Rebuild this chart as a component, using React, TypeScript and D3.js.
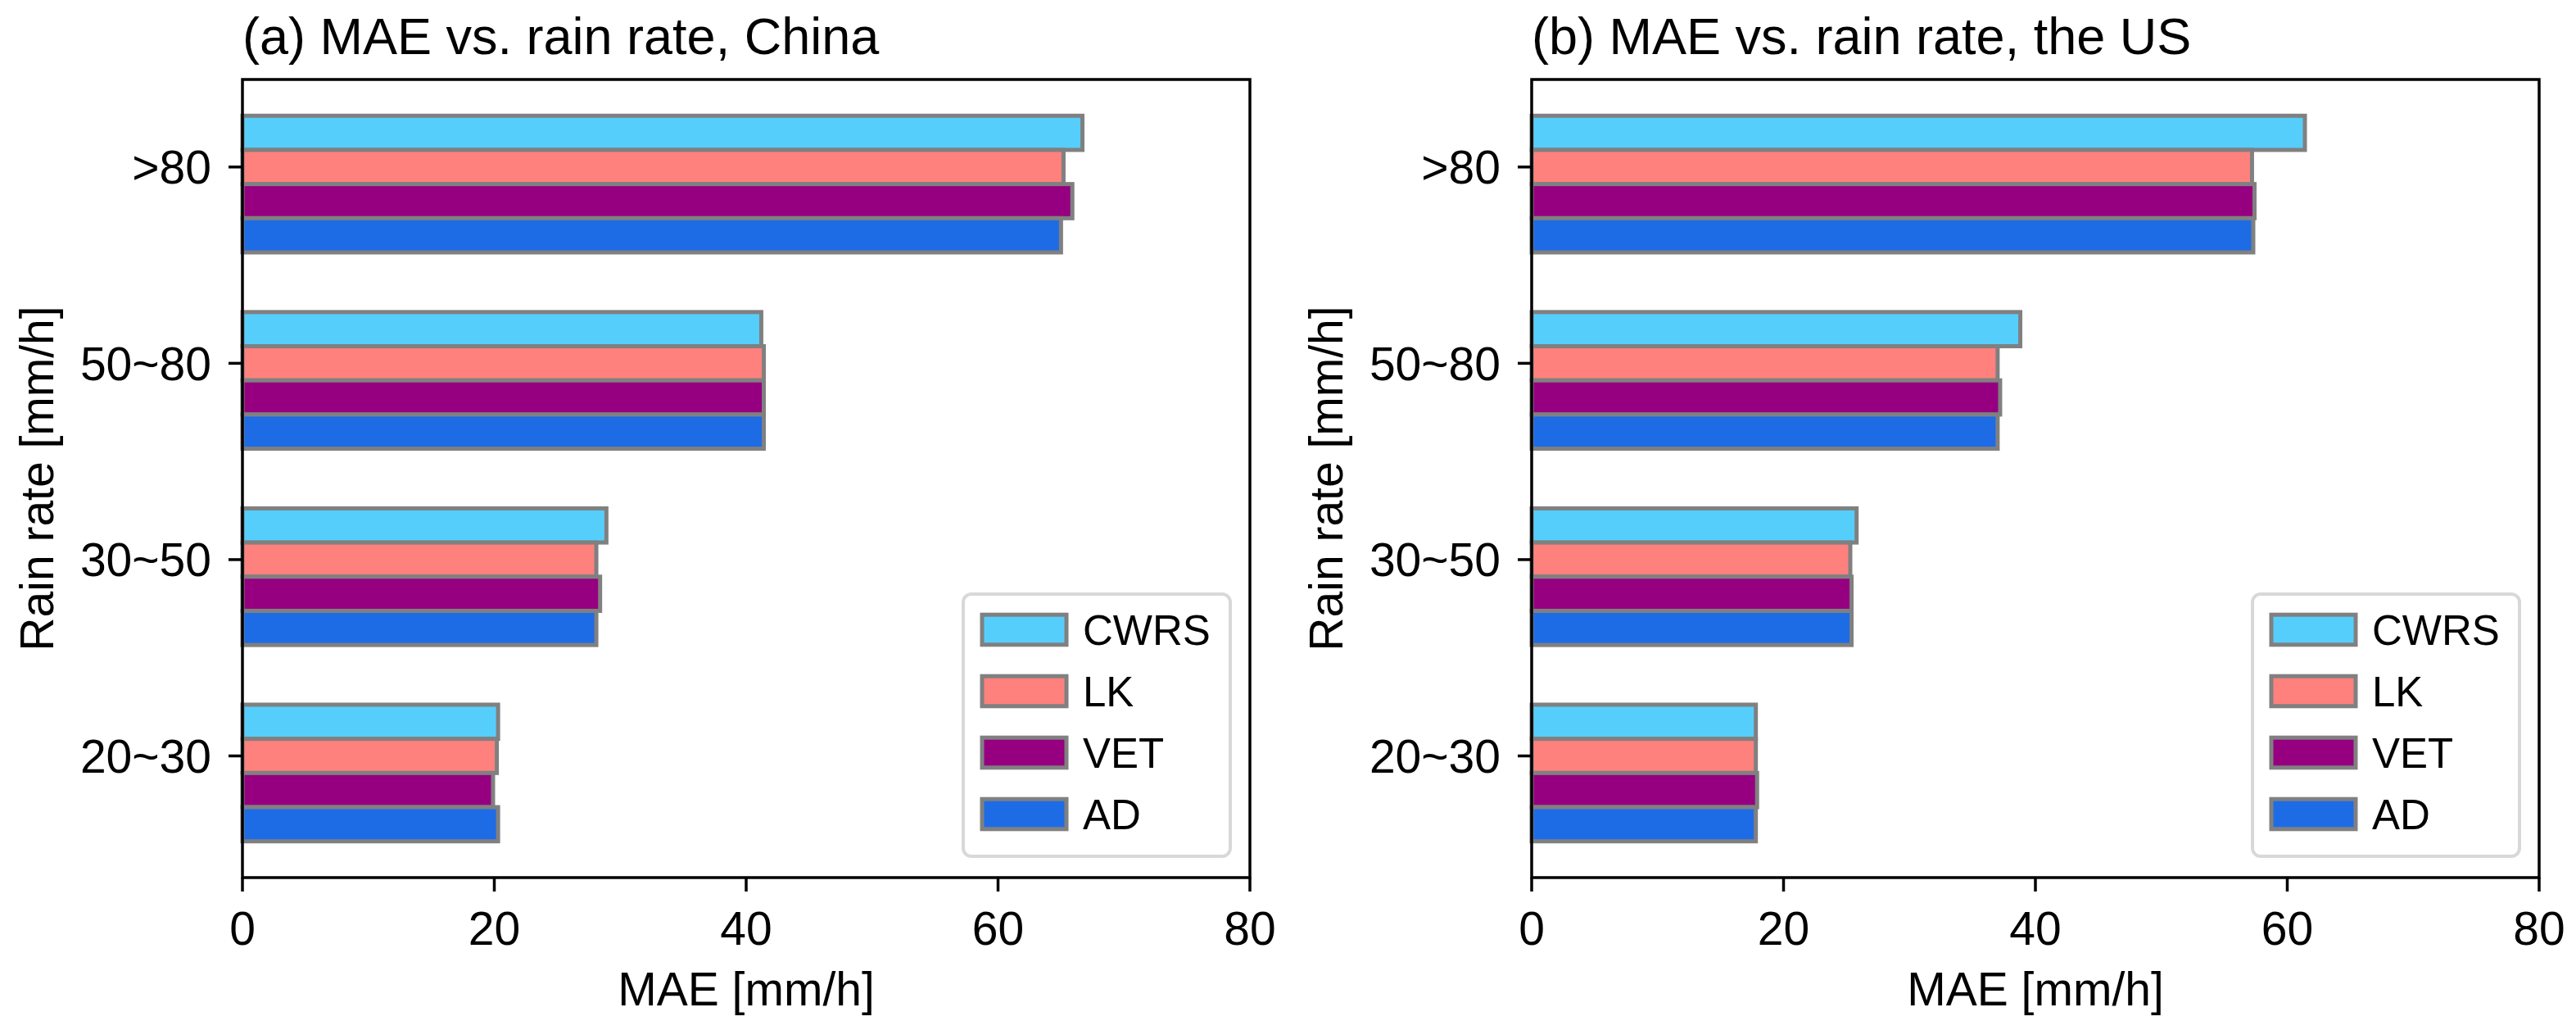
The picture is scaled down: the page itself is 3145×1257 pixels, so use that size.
import React, { useRef, useEffect } from 'react';
import * as d3 from 'd3';

const categories = ['20~30', '30~50', '50~80', '>80'];
const methods = ['CWRS', 'LK', 'VET', 'AD'];
const methodColors = ['#56CEFC', '#FF817D', '#960080', '#1E6BE6'];
const xTicks = [0, 20, 40, 60, 80];
const titles = ['(a) MAE vs. rain rate, China', '(b) MAE vs. rain rate, the US'];

// MAE [mm/h], one row per method, columns follow categories
const chinaMAE = [
  [20.3, 28.9, 41.2, 66.7],
  [20.2, 28.1, 41.4, 65.2],
  [19.9, 28.4, 41.4, 65.9],
  [20.3, 28.1, 41.4, 65.0]
];
const usMAE = [
  [17.8, 25.8, 38.8, 61.4],
  [17.8, 25.3, 37.0, 57.2],
  [17.9, 25.4, 37.2, 57.4],
  [17.8, 25.4, 37.0, 57.3]
];

export default function App(): JSX.Element {
  const svgRef = useRef<SVGSVGElement>(null);
  useEffect(() => {
    const svgEle = svgRef.current;
    if (svgEle == null) {
      return;
    }
    const svg = d3.select(svgEle);
    svg.selectAll('*').remove();

    const font = '"Liberation Sans", Arial, Helvetica, sans-serif';
    const top = 97;
    const bottom = 1071;
    const plotW = 1230;
    const barH = 0.174;
    const fs = 57;
    const edge = '#808080';

    // same auto limits as matplotlib: bar extent + 5% margins
    const span = categories.length - 1 + 4 * barH;
    const y = d3
      .scaleLinear()
      .domain([-2.5 * barH - 0.05 * span, categories.length - 1 + 1.5 * barH + 0.05 * span])
      .range([bottom, top]);

    const panels = [
      { left: 296, title: titles[0], values: chinaMAE },
      { left: 1870, title: titles[1], values: usMAE }
    ];

    panels.forEach((p) => {
      const x = d3.scaleLinear().domain([0, 80]).range([p.left, p.left + plotW]);
      const g = svg.append('g');

      // bars, CWRS on top of each group, LK centred on the tick
      methods.forEach((m, i) => {
        g.selectAll(null)
          .data(p.values[i])
          .join('rect')
          .attr('x', x(0))
          .attr('y', (d, j) => y(j + (1 - i) * barH + barH / 2))
          .attr('width', (d) => x(d) - x(0))
          .attr('height', y(0) - y(barH))
          .attr('fill', methodColors[i])
          .attr('stroke', edge)
          .attr('stroke-width', 5);
      });

      // frame
      g.append('rect')
        .attr('x', p.left)
        .attr('y', top)
        .attr('width', plotW)
        .attr('height', bottom - top)
        .attr('fill', 'none')
        .attr('stroke', '#000')
        .attr('stroke-width', 3.5);

      // y ticks
      g.selectAll(null)
        .data(categories)
        .join('line')
        .attr('x1', p.left - 17)
        .attr('x2', p.left)
        .attr('y1', (d, j) => y(j))
        .attr('y2', (d, j) => y(j))
        .attr('stroke', '#000')
        .attr('stroke-width', 3.5);
      g.selectAll(null)
        .data(categories)
        .join('text')
        .attr('x', p.left - 38)
        .attr('y', (d, j) => y(j) + fs * 0.358)
        .attr('text-anchor', 'end')
        .style('font-family', font)
        .style('font-size', `${fs}px`)
        .text((d) => d);

      // x ticks
      g.selectAll(null)
        .data(xTicks)
        .join('line')
        .attr('x1', (d) => x(d))
        .attr('x2', (d) => x(d))
        .attr('y1', bottom)
        .attr('y2', bottom + 17)
        .attr('stroke', '#000')
        .attr('stroke-width', 3.5);
      g.selectAll(null)
        .data(xTicks)
        .join('text')
        .attr('x', (d) => x(d))
        .attr('y', bottom + 82)
        .attr('text-anchor', 'middle')
        .style('font-family', font)
        .style('font-size', `${fs}px`)
        .text((d) => d);

      // axis labels and title
      g.append('text')
        .attr('x', p.left + plotW / 2)
        .attr('y', 1227)
        .attr('text-anchor', 'middle')
        .style('font-family', font)
        .style('font-size', `${fs}px`)
        .text('MAE [mm/h]');
      g.append('text')
        .attr('transform', `translate(${p.left - 231},${(top + bottom) / 2}) rotate(-90)`)
        .attr('text-anchor', 'middle')
        .style('font-family', font)
        .style('font-size', `${fs}px`)
        .text('Rain rate [mm/h]');
      g.append('text')
        .attr('x', p.left)
        .attr('y', 66)
        .style('font-family', font)
        .style('font-size', '63px')
        .text(p.title);

      // legend
      const boxW = 326;
      const boxH = 320;
      const boxX = p.left + plotW - 24 - boxW;
      const boxY = bottom - 26 - boxH;
      g.append('rect')
        .attr('x', boxX)
        .attr('y', boxY)
        .attr('width', boxW)
        .attr('height', boxH)
        .attr('rx', 10)
        .attr('fill', '#fff')
        .attr('fill-opacity', 0.8)
        .attr('stroke', '#d8d8d8')
        .attr('stroke-width', 4);
      const lg = g
        .selectAll(null)
        .data(methods)
        .join('g')
        .attr('transform', (d, i) => `translate(${boxX},${boxY + 43.5 + i * 75})`);
      lg.append('rect')
        .attr('x', 23)
        .attr('y', -18.3)
        .attr('width', 103)
        .attr('height', 36.6)
        .attr('fill', (d, i) => methodColors[i])
        .attr('stroke', edge)
        .attr('stroke-width', 5);
      lg.append('text')
        .attr('x', 146)
        .attr('y', 18)
        .style('font-family', font)
        .style('font-size', '51px')
        .text((d) => d);
    });
  }, []);
  return (
    <div style={{ position: 'absolute', left: 0, top: 0, background: '#fff' }}>
      <svg ref={svgRef} width={3145} height={1257} style={{ display: 'block' }} />
    </div>
  );
}
